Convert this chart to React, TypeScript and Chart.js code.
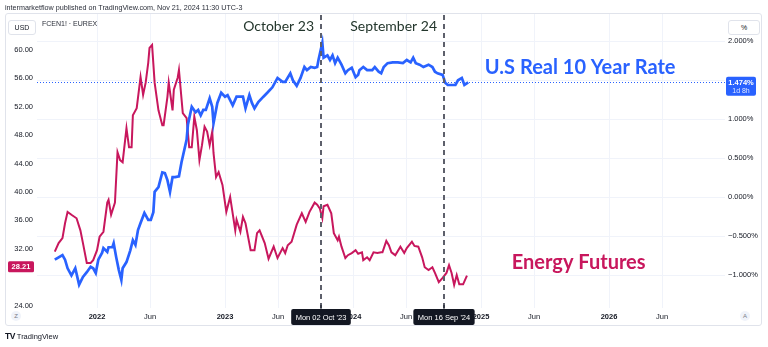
import React, { useEffect, useRef } from "react";
import { Chart, registerables } from "chart.js";

Chart.register(...registerables);

const W = 768;
const H = 347;
const BLUE = "#2962ff";
const RED = "#c8175d";
const FONT = "'Liberation Sans', Arial, sans-serif";
const BIG_FONT = "Lato, 'Open Sans', sans-serif";

// Energy futures (left axis, EUR)
const energyDates = [
  2021.67, 2021.7, 2021.73, 2021.75, 2021.77, 2021.8, 2021.84, 2021.87, 2021.89, 2021.92,
  2021.95, 2021.97, 2022.0, 2022.02, 2022.05, 2022.08, 2022.09, 2022.11, 2022.14, 2022.16,
  2022.18, 2022.2, 2022.23, 2022.25, 2022.27, 2022.28, 2022.31, 2022.34, 2022.36, 2022.38,
  2022.4, 2022.41, 2022.43, 2022.45, 2022.48, 2022.51, 2022.52, 2022.55, 2022.56, 2022.59,
  2022.6, 2022.63, 2022.64, 2022.67, 2022.7, 2022.72, 2022.74, 2022.76, 2022.78, 2022.8,
  2022.82, 2022.84, 2022.86, 2022.88, 2022.9, 2022.91, 2022.93, 2022.95, 2022.98, 2023.01,
  2023.04, 2023.08, 2023.09, 2023.12, 2023.14, 2023.16, 2023.2, 2023.23, 2023.25, 2023.27,
  2023.31, 2023.34, 2023.38, 2023.41, 2023.45, 2023.47, 2023.49, 2023.52, 2023.56, 2023.6,
  2023.63, 2023.66, 2023.7, 2023.72, 2023.74, 2023.76, 2023.77, 2023.8, 2023.83, 2023.85,
  2023.88, 2023.89, 2023.91, 2023.94, 2023.96, 2023.99, 2024.02, 2024.04, 2024.07, 2024.08,
  2024.11, 2024.13, 2024.16, 2024.19, 2024.22, 2024.23, 2024.26, 2024.28, 2024.3, 2024.33,
  2024.37, 2024.4, 2024.42, 2024.46, 2024.48, 2024.51, 2024.54, 2024.56, 2024.59, 2024.62,
  2024.64, 2024.67, 2024.7, 2024.73, 2024.75, 2024.77, 2024.79, 2024.81, 2024.83, 2024.86,
  2024.89,
];
const energyValues = [
  31.6, 32.8, 33.5, 35.6, 37.2, 36.8, 36.3, 34.6, 32.8, 30.0,
  30.0, 30.4, 31.8, 33.7, 34.4, 38.5, 38.9, 36.8, 38.5, 45.6,
  44.5, 44.2, 49.0, 46.3, 46.3, 50.8, 51.8, 56.2, 53.7, 55.4,
  58.2, 60.3, 60.7, 55.4, 51.5, 49.4, 49.4, 53.4, 55.4, 51.5,
  54.4, 56.1, 57.2, 51.1, 50.4, 46.3, 46.3, 50.6, 48.7, 44.5,
  46.6, 49.2, 48.5, 46.6, 48.5, 45.5, 42.1, 42.8, 41.0, 37.2,
  39.3, 34.6, 36.1, 34.4, 36.5, 35.6, 31.8, 31.8, 34.2, 34.6,
  32.8, 30.6, 32.3, 30.7, 32.1, 31.4, 32.5, 33.0, 35.4, 37.0,
  35.8, 37.2, 38.5, 38.2, 37.7, 36.3, 38.0, 38.2, 37.0, 34.2,
  33.2, 33.7, 32.3, 30.7, 31.1, 31.4, 31.8, 31.3, 31.5, 30.4,
  30.8, 30.4, 31.5, 31.4, 31.5, 31.5, 33.1, 32.5, 31.5, 31.1,
  32.3, 31.4, 32.1, 33.0, 32.4, 32.3, 30.8, 29.4, 29.0, 29.4,
  28.6, 27.3, 27.9, 28.6, 29.7, 28.6, 26.9, 28.3, 27.0, 27.0,
  28.21,
];

// U.S. real 10 year rate (right axis, %)
const rateDates = [
  2021.67, 2021.7, 2021.73, 2021.75, 2021.77, 2021.8, 2021.83, 2021.86, 2021.89, 2021.92,
  2021.95, 2021.97, 2021.99, 2022.01, 2022.04, 2022.05, 2022.08, 2022.09, 2022.12, 2022.13,
  2022.15, 2022.17, 2022.19, 2022.2, 2022.23, 2022.26, 2022.28, 2022.3, 2022.32, 2022.34,
  2022.37, 2022.4, 2022.42, 2022.44, 2022.45, 2022.48, 2022.51, 2022.53, 2022.55, 2022.57,
  2022.59, 2022.61, 2022.64, 2022.66, 2022.7, 2022.71, 2022.74, 2022.77, 2022.79, 2022.81,
  2022.83, 2022.85, 2022.88, 2022.9, 2022.91, 2022.94, 2022.97, 2023.0, 2023.02, 2023.06,
  2023.09, 2023.12, 2023.14, 2023.16, 2023.19, 2023.21, 2023.23, 2023.26, 2023.3, 2023.33,
  2023.37, 2023.41, 2023.45, 2023.47, 2023.51, 2023.53, 2023.56, 2023.59, 2023.62, 2023.64,
  2023.67, 2023.7, 2023.72, 2023.73, 2023.76, 2023.77, 2023.8, 2023.82, 2023.84, 2023.86,
  2023.88, 2023.91, 2023.94, 2023.96, 2023.99, 2024.02, 2024.04, 2024.05, 2024.08, 2024.11,
  2024.15, 2024.17, 2024.2, 2024.22, 2024.24, 2024.27, 2024.31, 2024.35, 2024.39, 2024.42,
  2024.45, 2024.47, 2024.49, 2024.52, 2024.55, 2024.59, 2024.62, 2024.64, 2024.66, 2024.7,
  2024.72, 2024.74, 2024.77, 2024.8, 2024.82, 2024.85, 2024.87, 2024.9,
];
const rateValues = [
  -0.8, -0.77, -0.74, -0.8, -0.91, -1.0, -0.91, -1.12, -1.02, -0.96,
  -0.89, -0.91, -0.97, -0.8, -0.71, -0.65, -0.7, -0.64, -0.64, -0.59,
  -0.77, -0.93, -1.06, -0.91, -0.83, -0.68, -0.55, -0.61, -0.42, -0.33,
  -0.2, -0.29, -0.29, -0.19, 0.07, 0.13, 0.32, 0.31, 0.22, 0.07,
  0.26, 0.26, 0.27, 0.45, 0.74, 0.93, 1.16, 1.09, 1.12, 1.05,
  1.12, 1.12, 1.27, 1.16, 0.95, 1.21, 1.34, 1.29, 1.31, 1.18,
  1.29, 1.29, 1.29, 1.14, 1.31, 1.21, 1.14, 1.22, 1.29, 1.34,
  1.41, 1.53, 1.48, 1.48, 1.59, 1.5, 1.43, 1.53, 1.67, 1.63,
  1.67, 1.66, 1.67, 1.76, 1.98, 1.79, 1.82, 1.76, 1.82, 1.72,
  1.79, 1.7, 1.59, 1.63, 1.66, 1.54, 1.57, 1.63, 1.67, 1.63,
  1.63, 1.67, 1.61, 1.59, 1.67, 1.72, 1.73, 1.73, 1.72, 1.76,
  1.73, 1.79, 1.72, 1.7, 1.67, 1.7, 1.67, 1.61, 1.59, 1.57,
  1.47, 1.44, 1.44, 1.44, 1.5, 1.53, 1.44, 1.474,
];

const energyTicks = [24, 32, 36, 40, 44, 48, 52, 56, 60];
const rateTicks = [-1, -0.5, 0, 0.5, 1, 1.5, 2];
const timeTicks = [2022, 2022.414, 2023, 2023.414, 2024, 2024.415, 2025, 2025.414, 2026, 2026.414];
const timeTickLabels = ["2022", "Jun", "2023", "Jun", "2024", "Jun", "2025", "Jun", "2026", "Jun"];

const eventDates = [2023.751, 2024.708];
const eventTitles = ["October 23", "September 24"];
const eventTags = ["Mon 02 Oct '23", "Mon 16 Sep '24"];

const lastEnergy = 28.21;
const lastRate = 1.474;
const rateCountdown = "1d 8h";

const rateName = "U.S Real 10 Year Rate";
const energyName = "Energy Futures";
const rateNameAt = { x: 2025.03, y: 1.66 };
const energyNameAt = { x: 2025.24, y: 30.1 };

function roundRect(ctx: CanvasRenderingContext2D, x: number, y: number, w: number, h: number, r: number) {
  ctx.beginPath();
  ctx.moveTo(x + r, y);
  ctx.lineTo(x + w - r, y);
  ctx.quadraticCurveTo(x + w, y, x + w, y + r);
  ctx.lineTo(x + w, y + h - r);
  ctx.quadraticCurveTo(x + w, y + h, x + w - r, y + h);
  ctx.lineTo(x + r, y + h);
  ctx.quadraticCurveTo(x, y + h, x, y + h - r);
  ctx.lineTo(x, y + r);
  ctx.quadraticCurveTo(x, y, x + r, y);
  ctx.closePath();
}

const overlayPlugin = {
  id: "tvOverlay",
  beforeDatasetsDraw(chart: any) {
    const { ctx, chartArea, scales } = chart;
    ctx.save();
    const yr = Math.round(scales.yR.getPixelForValue(lastRate)) + 0.5;
    ctx.setLineDash([1, 2]);
    ctx.strokeStyle = BLUE;
    ctx.lineWidth = 1;
    ctx.beginPath();
    ctx.moveTo(chartArea.left, yr);
    ctx.lineTo(chartArea.right, yr);
    ctx.stroke();
    ctx.restore();
  },
  afterDatasetsDraw(chart: any) {
    const { ctx, chartArea, scales } = chart;
    const xs = scales.x;
    ctx.save();
    eventDates.forEach((d, i) => {
      const px = Math.round(xs.getPixelForValue(d));
      ctx.setLineDash([5, 4]);
      ctx.strokeStyle = "#5d606b";
      ctx.lineWidth = 2;
      ctx.beginPath();
      ctx.moveTo(px, chartArea.top + 1);
      ctx.lineTo(px, chartArea.bottom);
      ctx.stroke();
      ctx.setLineDash([]);
      ctx.font = `14px ${BIG_FONT}`;
      ctx.fillStyle = "#23362c";
      ctx.textAlign = "right";
      ctx.textBaseline = "middle";
      ctx.fillText(eventTitles[i], px - 7, chartArea.top + 12);
      ctx.font = `7.5px ${FONT}`;
      const tw = ctx.measureText(eventTags[i]).width + 9;
      ctx.fillStyle = "#131722";
      roundRect(ctx, px - tw / 2, chartArea.bottom + 1, tw, 16, 2);
      ctx.fill();
      ctx.fillRect(px - 0.5, chartArea.bottom - 3, 1, 4);
      ctx.fillStyle = "#ffffff";
      ctx.textAlign = "center";
      ctx.fillText(eventTags[i], px, chartArea.bottom + 9.5);
    });

    ctx.textAlign = "left";
    ctx.textBaseline = "middle";
    ctx.font = `bold 20px ${BIG_FONT}`;
    ctx.fillStyle = BLUE;
    ctx.fillText(rateName, xs.getPixelForValue(rateNameAt.x), scales.yR.getPixelForValue(rateNameAt.y));
    ctx.fillStyle = RED;
    ctx.fillText(energyName, xs.getPixelForValue(energyNameAt.x), scales.yL.getPixelForValue(energyNameAt.y));

    const yr = scales.yR.getPixelForValue(lastRate);
    ctx.fillStyle = BLUE;
    roundRect(ctx, chartArea.right + 1, yr - 5.5, 30, 19, 2);
    ctx.fill();
    ctx.fillStyle = "#ffffff";
    ctx.textAlign = "center";
    ctx.font = `bold 7.5px ${FONT}`;
    ctx.fillText(lastRate.toFixed(3) + "%", chartArea.right + 16, yr + 0.5);
    ctx.font = `7px ${FONT}`;
    ctx.fillStyle = "#dfe6ff";
    ctx.fillText(rateCountdown, chartArea.right + 16, yr + 8.5);

    const yl = scales.yL.getPixelForValue(lastEnergy) - 9;
    ctx.fillStyle = RED;
    roundRect(ctx, chartArea.left - 29, yl - 5.5, 26, 11, 1.5);
    ctx.fill();
    ctx.fillStyle = "#ffffff";
    ctx.font = `bold 7.5px ${FONT}`;
    ctx.fillText(lastEnergy.toFixed(2), chartArea.left - 16, yl + 0.5);
    ctx.restore();
  },
};

export default function App() {
  const ref = useRef<HTMLCanvasElement | null>(null);

  useEffect(() => {
    document.body.style.margin = "0";
    const canvas = ref.current;
    if (!canvas) return;
    const chart = new Chart(canvas, {
      type: "line",
      data: {
        datasets: [
          {
            label: rateName,
            data: rateDates.map((d, i) => ({ x: d, y: rateValues[i] })),
            yAxisID: "yR",
            borderColor: BLUE,
            borderWidth: 2.7,
            pointRadius: 0,
            tension: 0,
          },
          {
            label: energyName,
            data: energyDates.map((d, i) => ({ x: d, y: energyValues[i] })),
            yAxisID: "yL",
            borderColor: RED,
            borderWidth: 2,
            pointRadius: 0,
            tension: 0,
          },
        ],
      },
      options: {
        responsive: false,
        animation: false,
        devicePixelRatio: 1,
        layout: { padding: { top: 14, left: 0, right: 0, bottom: 0 } },
        plugins: { legend: { display: false }, tooltip: { enabled: false } },
        scales: {
          x: {
            type: "linear",
            min: 2021.531,
            max: 2026.906,
            afterBuildTicks: (s: any) => {
              s.ticks = timeTicks.map((v) => ({ value: v }));
            },
            afterFit: (s: any) => {
              s.height = 39;
            },
            grid: { color: "#f0f3fa", drawTicks: false },
            border: { display: false },
            ticks: {
              autoSkip: false,
              maxRotation: 0,
              padding: 4,
              color: "#131722",
              font: (c: any) => ({ size: 7.5, family: FONT, weight: c.index % 2 === 0 ? "bold" : "normal" }),
              callback: (_v: any, i: number) => timeTickLabels[i],
            },
          },
          yL: {
            type: "linear",
            position: "left",
            min: 23.66,
            max: 65.07,
            afterBuildTicks: (s: any) => {
              s.ticks = energyTicks.map((v) => ({ value: v }));
            },
            afterFit: (s: any) => {
              s.width = 37;
            },
            grid: { display: false, drawTicks: false },
            border: { display: false },
            ticks: {
              padding: 4,
              color: "#131722",
              font: { size: 7.5, family: FONT },
              callback: (v: any) => Number(v).toFixed(2),
            },
          },
          yR: {
            type: "linear",
            position: "right",
            min: -1.419,
            max: 2.35,
            afterBuildTicks: (s: any) => {
              s.ticks = rateTicks.map((v) => ({ value: v }));
            },
            afterFit: (s: any) => {
              s.width = 43;
            },
            grid: { color: "#f0f3fa", drawTicks: false },
            border: { display: false },
            ticks: {
              padding: 3,
              color: "#131722",
              font: { size: 7.5, family: FONT },
              callback: (v: any) => (v < 0 ? "\u2212" : "") + Math.abs(Number(v)).toFixed(3) + "%",
            },
          },
        },
      },
      plugins: [overlayPlugin],
    } as any);
    return () => chart.destroy();
  }, []);

  const box: React.CSSProperties = {
    position: "absolute",
    top: 20,
    height: 13,
    border: "1px solid #e0e3eb",
    borderRadius: 3,
    background: "#fff",
    font: `7px ${FONT}`,
    color: "#131722",
    display: "flex",
    alignItems: "center",
    justifyContent: "center",
  };
  const circ: React.CSSProperties = {
    position: "absolute",
    top: 311,
    width: 10,
    height: 10,
    borderRadius: 5,
    background: "#f0f3fa",
    font: `6px ${FONT}`,
    color: "#787b86",
    display: "flex",
    alignItems: "center",
    justifyContent: "center",
  };

  return (
    <div style={{ position: "relative", width: W, height: H, overflow: "hidden", background: "#fff" }}>
      <canvas ref={ref} width={W} height={H} style={{ position: "absolute", left: 0, top: 0, width: W, height: H }} />
      <div style={{ position: "absolute", left: 5, top: 13, width: 755, height: 311, border: "1px solid #e0e3eb", borderRadius: 3, pointerEvents: "none" }} />
      <div style={{ position: "absolute", left: 5, top: 3, font: `7.2px ${FONT}`, color: "#2a2e39", whiteSpace: "nowrap" }}>
        intermarketflow published on TradingView.com, Nov 21, 2024 11:30 UTC-3
      </div>
      <div style={{ ...box, left: 8, width: 26 }}>USD</div>
      <div style={{ ...box, left: 728, width: 30 }}>%</div>
      <div style={{ position: "absolute", left: 42, top: 20, font: `7px ${FONT}`, color: "#2a2e39", whiteSpace: "nowrap" }}>
        FCEN1! · EUREX
      </div>
      <div style={{ ...circ, left: 11 }}>Z</div>
      <div style={{ ...circ, left: 740 }}>A</div>
      <div style={{ position: "absolute", left: 5, top: 331, font: `7.5px ${FONT}`, color: "#131722", whiteSpace: "nowrap" }}>
        <b style={{ fontSize: 8.5, letterSpacing: -0.5 }}>TV</b> TradingView
      </div>
    </div>
  );
}
